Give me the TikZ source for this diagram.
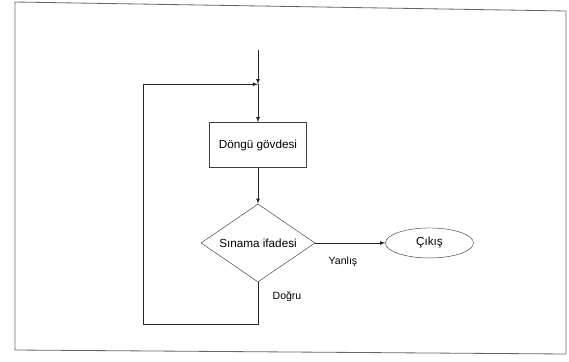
\documentclass[tikz,border=0pt]{standalone}
\usepackage{fontspec}
\setmainfont{Liberation Sans}
\usetikzlibrary{shapes.geometric, arrows, positioning, calc}

\begin{document}
\begin{tikzpicture}[
        font=\fontsize{10}{12}\selectfont, node distance=1cm,
        box/.style={draw=black!75, minimum width=2.91cm, minimum height=1.35cm, align=center},
        karar/.style={draw=black!75, diamond, aspect=1.46, inner sep=0pt, minimum width=3.42cm, minimum height=2.34cm},
        bitis/.style={draw=black!75, ellipse, inner sep=0pt, minimum width=2.64cm, minimum height=0.9cm},
        lbl/.style={font=\fontsize{9}{11}\selectfont},
        arr/.style={-latex, black!85, line width=0.5pt}
    ]
        \useasboundingbox (0,0) rectangle (17.07,-10.83);
        \draw[black!60, line width=0.7pt] (0.45,-0.06) -- (16.98,-0.33) -- (16.98,-10.62) -- (0.45,-10.5) -- cycle;

        \node[box] (govde) at (7.74,-4.35) {Döngü gövdesi};
        \node[karar, below=1.08cm of govde] (sinama) {Sınama ifadesi};
        \node[bitis, right=2.1cm of sinama] (cikis) {Çıkış};
        \coordinate[above=1.14cm of govde] (birles);
        \coordinate[above=1.02cm of birles] (giris);
        \coordinate (altsag) at ($(sinama.south)+(0,-1.26)$);
        \coordinate (altsol) at ($(altsag)+(-3.45,0)$);

        \node[lbl] (yanlis) at (10.29,-7.86) {Yanlış};
        \node[lbl] (dogru)  at (8.61,-8.91)  {Doğru};

        \draw[arr] (giris)  -- (birles);
        \draw[arr] (birles) -- (govde);
        \draw[arr] (govde)  -- (sinama);
        \draw[arr] (sinama) -- (cikis);
        \draw[arr] (sinama.south) -- (altsag) -- (altsol) |- (birles);
    \end{tikzpicture}
\end{document}
